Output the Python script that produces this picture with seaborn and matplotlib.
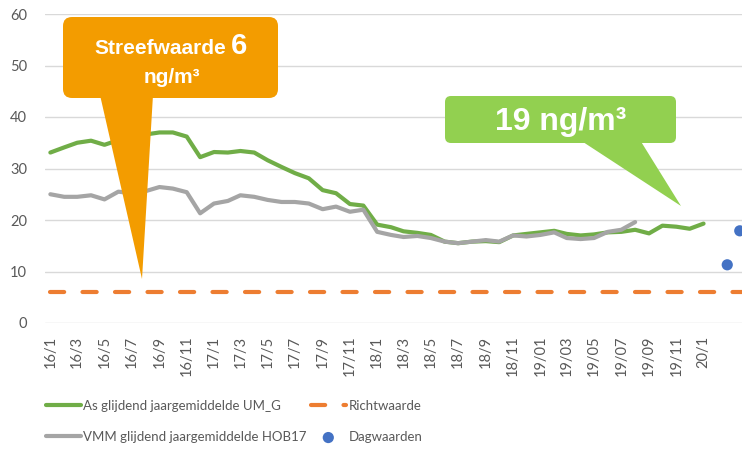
import numpy as np
import pandas as pd
import matplotlib
matplotlib.use('Agg')
import matplotlib.pyplot as plt
from matplotlib.patches import FancyBboxPatch, Polygon
from matplotlib.transforms import IdentityTransform
import seaborn as sns

# maandelijkse waarden 2016/1 .. 2020/1
maanden = pd.date_range('2016-01-01', '2020-01-01', freq='MS')

as_um_g = [33.1, 34.1, 35.0, 35.4, 34.6, 35.5, 36.0, 36.6, 37.0, 37.0,
           36.2, 32.2, 33.2, 33.1, 33.4, 33.1, 31.6, 30.3, 29.1, 28.1,
           25.8, 25.2, 23.1, 22.8, 19.1, 18.6, 17.8, 17.5, 17.1, 15.8,
           15.5, 15.8, 15.9, 15.7, 17.0, 17.3, 17.6, 17.9, 17.3, 17.0,
           17.2, 17.6, 17.7, 18.1, 17.4, 18.9, 18.7, 18.3, 19.3]

vmm_hob17 = [25.0, 24.5, 24.5, 24.8, 24.0, 25.5, 25.2, 25.6, 26.4, 26.1,
             25.4, 21.3, 23.2, 23.7, 24.8, 24.5, 23.9, 23.5, 23.5, 23.2,
             22.1, 22.6, 21.6, 22.0, 17.7, 17.1, 16.7, 16.9, 16.5, 15.8,
             15.5, 15.8, 16.1, 15.8, 17.0, 16.8, 17.1, 17.6, 16.5, 16.3,
             16.5, 17.7, 18.1, 19.6]

richt_maanden = pd.date_range('2016-01-01', '2020-04-01', freq='MS')
richtwaarde = [6] * len(richt_maanden)

dag_datums = pd.to_datetime(['2020-02-23', '2020-03-22'])
dag_waarden = [11.3, 17.9]

tick_labels = ['16/1', '16/3', '16/5', '16/7', '16/9', '16/11',
               '17/1', '17/3', '17/5', '17/7', '17/9', '17/11',
               '18/1', '18/3', '18/5', '18/7', '18/9', '18/11',
               '19/01', '19/03', '19/05', '19/07', '19/09', '19/11', '20/1']

sns.set_style('white')
plt.rcParams['font.family'] = ['Lato', 'DejaVu Sans']

W, H = 742, 449
fig = plt.figure(figsize=(W / 100, H / 100), dpi=100)
ax = fig.add_axes([45 / W, 1 - 323 / H, (W - 45) / W, (323 - 14) / H])

sns.lineplot(x=maanden, y=as_um_g, ax=ax, color='#70AD47', linewidth=3,
             label='As glijdend jaargemiddelde UM_G', solid_capstyle='round')
sns.lineplot(x=maanden[:len(vmm_hob17)], y=vmm_hob17, ax=ax, color='#A5A5A5',
             linewidth=3, label='VMM glijdend jaargemiddelde HOB17',
             solid_capstyle='round')
sns.lineplot(x=richt_maanden, y=richtwaarde, ax=ax, color='#ED7D31',
             linewidth=3, linestyle=(0, (3.4, 4.4)), dash_capstyle='round',
             label='Richtwaarde')
sns.scatterplot(x=dag_datums, y=dag_waarden, ax=ax, color='#4472C4', s=65,
                edgecolor='none', label='Dagwaarden', zorder=5)

ax.set_ylim(0, 60)
ax.set_yticks(range(0, 61, 10))
ax.set_xlim(pd.Timestamp('2015-12-20'), pd.Timestamp('2020-03-27'))
ax.set_xticks(maanden[::2])
ax.set_xticklabels(tick_labels, rotation=90)
ax.tick_params(axis='both', length=0, colors='#595959', labelsize=10.5)
ax.tick_params(axis='x', pad=9)
ax.tick_params(axis='y', pad=13)
ax.yaxis.grid(True, color='#D9D9D9', linewidth=1)
ax.set_axisbelow(True)
for s in ax.spines.values():
    s.set_visible(False)
ax.set_xlabel('')
ax.set_ylabel('')

handles, labels = ax.get_legend_handles_labels()
ax.get_legend().remove()
fig.legend(handles, labels,
           loc='upper left', bbox_to_anchor=(34 / W, 1 - 388 / H), ncol=2,
           frameon=False, fontsize=9.5, labelcolor='#595959',
           handlelength=2.65, handletextpad=0.2, columnspacing=0.3,
           labelspacing=1.45)

# callouts in pixelcoordinaten (y van boven)
def px(x, y):
    return (x, H - y)

tr = IdentityTransform()
oranje = '#F39C00'
groen = '#92D050'
fig.patches.append(FancyBboxPatch(px(63, 98), 215, 81, transform=tr,
                                  boxstyle='round,pad=0,rounding_size=9',
                                  facecolor=oranje, edgecolor='none', zorder=10))
fig.patches.append(Polygon([px(100, 95), px(153, 95), px(142, 279)], closed=True,
                           transform=tr, facecolor=oranje, edgecolor='none', zorder=10))
fig.patches.append(FancyBboxPatch(px(445, 143), 231, 47, transform=tr,
                                  boxstyle='round,pad=0,rounding_size=6',
                                  facecolor=groen, edgecolor='none', zorder=10))
fig.patches.append(Polygon([px(580, 140), px(640, 140), px(681, 206)], closed=True,
                           transform=tr, facecolor=groen, edgecolor='none', zorder=10))

fig.text(226 / W, 1 - 54 / H, 'Streefwaarde', ha='right', va='baseline',
         color='white', fontsize=15, fontweight='bold',
         family='Liberation Sans', zorder=11)
fig.text(231 / W, 1 - 54 / H, '6', ha='left', va='baseline',
         color='white', fontsize=21, fontweight='bold',
         family='Liberation Sans', zorder=11)
fig.text(172 / W, 1 - 83 / H, 'ng/m³', ha='center', va='baseline',
         color='white', fontsize=15, fontweight='bold',
         family='Liberation Sans', zorder=11)
fig.text(561 / W, 1 - 130 / H, '19 ng/m³', ha='center', va='baseline',
         color='white', fontsize=23, fontweight='bold',
         family='Liberation Sans', zorder=11)

fig.savefig('out.png', dpi=100)
